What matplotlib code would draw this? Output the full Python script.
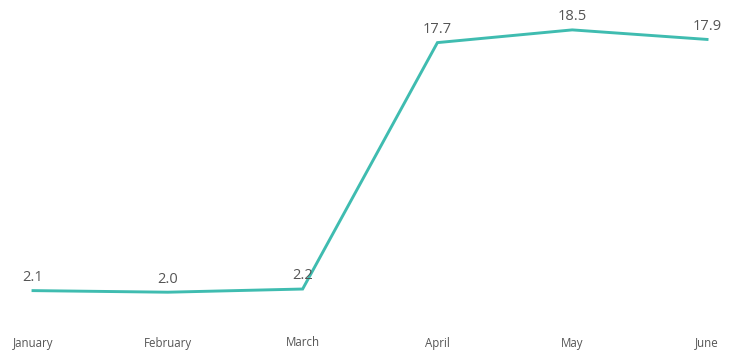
import matplotlib
matplotlib.use("Agg")
import matplotlib.pyplot as plt

# chart data
months = ["January", "February", "March", "April", "May", "June"]
values = [2.1, 2.0, 2.2, 17.7, 18.5, 17.9]
labels = ["2.1", "2.0", "2.2", "17.7", "18.5", "17.9"]

LINE = "#3fbcb0"
TEXT = "#555555"

plt.rcParams['font.family'] = ['Open Sans', 'DejaVu Sans']

fig = plt.figure(figsize=(7.29, 3.57), dpi=100)
ax = fig.add_axes([0, 33/357, 1, 1 - 33/357])

x = range(len(months))
ax.plot(x, values, color=LINE, lw=2.1, solid_joinstyle='miter')

for i, (v, s) in enumerate(zip(values, labels)):
    ax.annotate(s, (i, v), xytext=(0, 4), textcoords='offset points',
                ha='center', va='bottom', fontsize=10.5, color=TEXT)

ax.set_xlim(-0.245, 5.163)
ax.set_ylim(0, 20.38)
ax.set_xticks(list(x))
ax.set_xticklabels(months, fontsize=8.3, color=TEXT)
ax.tick_params(length=0, pad=9)
ax.set_yticks([])
for sp in ax.spines.values():
    sp.set_visible(False)

fig.savefig("out.png", dpi=100, facecolor="white")
